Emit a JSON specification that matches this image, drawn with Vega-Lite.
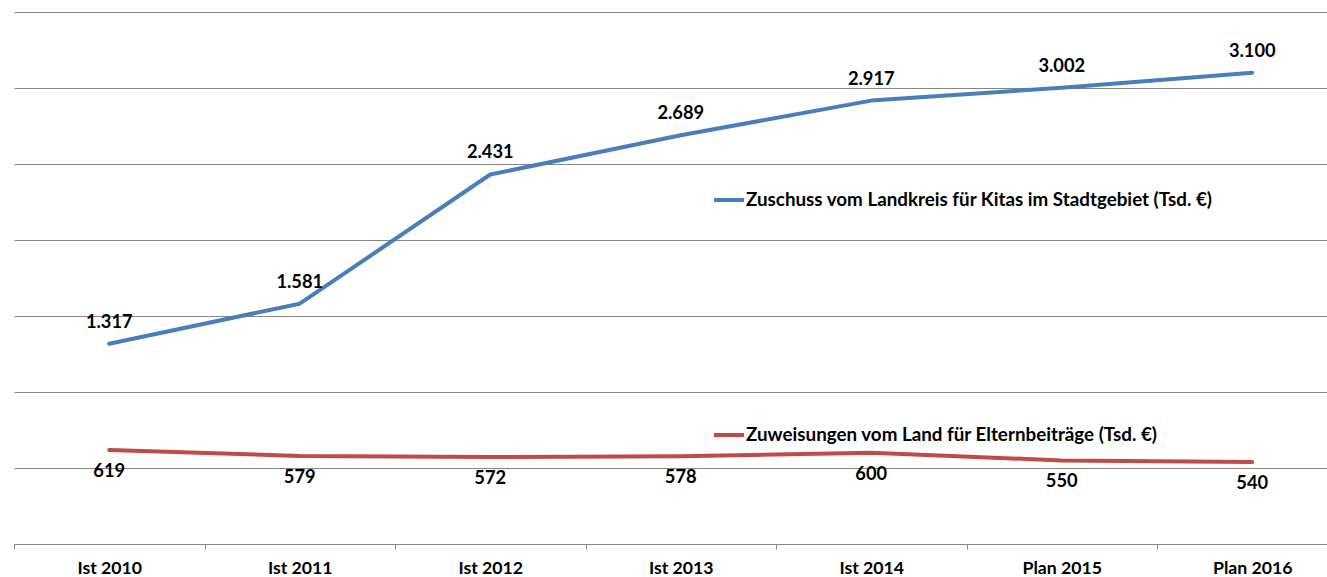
{
  "$schema": "https://vega.github.io/schema/vega-lite/v6.json",
  "width": 1313,
  "height": 532,
  "autosize": {"type": "none"},
  "padding": {"left": 14, "top": 12, "right": 0, "bottom": 33},
  "background": "white",
  "config": {
    "view": {"stroke": null},
    "locale": {"number": {"decimal": ",", "thousands": ".", "grouping": [3], "currency": ["", " €"]}},
    "font": "Lato"
  },
  "data": {
    "values": [
      {"jahr": "Ist 2010", "serie": "Zuschuss vom Landkreis für Kitas im Stadtgebiet (Tsd. €)", "wert": 1317},
      {"jahr": "Ist 2011", "serie": "Zuschuss vom Landkreis für Kitas im Stadtgebiet (Tsd. €)", "wert": 1581},
      {"jahr": "Ist 2012", "serie": "Zuschuss vom Landkreis für Kitas im Stadtgebiet (Tsd. €)", "wert": 2431},
      {"jahr": "Ist 2013", "serie": "Zuschuss vom Landkreis für Kitas im Stadtgebiet (Tsd. €)", "wert": 2689},
      {"jahr": "Ist 2014", "serie": "Zuschuss vom Landkreis für Kitas im Stadtgebiet (Tsd. €)", "wert": 2917},
      {"jahr": "Plan 2015", "serie": "Zuschuss vom Landkreis für Kitas im Stadtgebiet (Tsd. €)", "wert": 3002},
      {"jahr": "Plan 2016", "serie": "Zuschuss vom Landkreis für Kitas im Stadtgebiet (Tsd. €)", "wert": 3100},
      {"jahr": "Ist 2010", "serie": "Zuweisungen vom Land für Elternbeiträge (Tsd. €)", "wert": 619},
      {"jahr": "Ist 2011", "serie": "Zuweisungen vom Land für Elternbeiträge (Tsd. €)", "wert": 579},
      {"jahr": "Ist 2012", "serie": "Zuweisungen vom Land für Elternbeiträge (Tsd. €)", "wert": 572},
      {"jahr": "Ist 2013", "serie": "Zuweisungen vom Land für Elternbeiträge (Tsd. €)", "wert": 578},
      {"jahr": "Ist 2014", "serie": "Zuweisungen vom Land für Elternbeiträge (Tsd. €)", "wert": 600},
      {"jahr": "Plan 2015", "serie": "Zuweisungen vom Land für Elternbeiträge (Tsd. €)", "wert": 550},
      {"jahr": "Plan 2016", "serie": "Zuweisungen vom Land für Elternbeiträge (Tsd. €)", "wert": 540}
    ]
  },
  "encoding": {
    "x": {
      "field": "jahr",
      "type": "nominal",
      "sort": null,
      "scale": {"type": "band", "range": [0, 1333.5], "paddingInner": 0, "paddingOuter": 0},
      "axis": {
        "title": null,
        "labelAngle": 0,
        "tickBand": "extent",
        "grid": false,
        "domainColor": "#868686",
        "tickColor": "#868686",
        "tickSize": 5,
        "labelFont": "Lato",
        "labelFontSize": 17.7,
        "labelFontWeight": "bold",
        "labelColor": "#000000",
        "labelPadding": 10
      }
    },
    "y": {
      "field": "wert",
      "type": "quantitative",
      "scale": {"domain": [0, 3500], "nice": false},
      "axis": {
        "title": null,
        "values": [0, 500, 1000, 1500, 2000, 2500, 3000, 3500],
        "labels": false,
        "ticks": false,
        "domain": false,
        "grid": true,
        "gridColor": "#868686",
        "gridWidth": 1
      }
    }
  },
  "layer": [
    {
      "mark": {"type": "line", "strokeWidth": 4, "interpolate": "linear", "strokeCap": "round", "strokeJoin": "round"},
      "encoding": {
        "color": {
          "field": "serie",
          "type": "nominal",
          "scale": {
            "domain": ["Zuschuss vom Landkreis für Kitas im Stadtgebiet (Tsd. €)", "Zuweisungen vom Land für Elternbeiträge (Tsd. €)"],
            "range": ["#4a7ebb", "#be4b48"]
          },
          "legend": {
            "title": null,
            "orient": "none",
            "legendX": 698,
            "legendY": 171,
            "direction": "vertical",
            "symbolType": "stroke",
            "symbolSize": 900,
            "symbolStrokeWidth": 4,
            "labelFont": "Lato",
            "labelFontSize": 18.8,
            "labelFontWeight": "bold",
            "labelColor": "#000000",
            "labelLimit": 0,
            "labelOffset": 0,
            "rowPadding": 208
          }
        }
      }
    },
    {
      "transform": [{"filter": "datum.serie === 'Zuschuss vom Landkreis für Kitas im Stadtgebiet (Tsd. €)'"}],
      "mark": {"type": "text", "dy": -21, "font": "Lato", "fontSize": 18.3, "fontWeight": "bold", "color": "#000000"},
      "encoding": {"text": {"field": "wert", "type": "quantitative", "format": ",d"}}
    },
    {
      "transform": [{"filter": "datum.serie === 'Zuweisungen vom Land für Elternbeiträge (Tsd. €)'"}],
      "mark": {"type": "text", "dy": 22, "font": "Lato", "fontSize": 18.3, "fontWeight": "bold", "color": "#000000"},
      "encoding": {"text": {"field": "wert", "type": "quantitative", "format": ",d"}}
    }
  ]
}
